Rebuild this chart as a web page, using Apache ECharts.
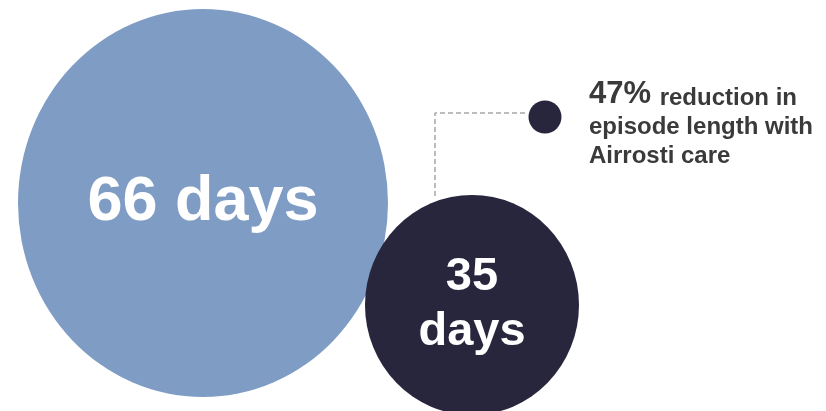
<!DOCTYPE html>
<html>
<head>
<meta charset="utf-8">
<style>
  html, body { margin: 0; padding: 0; background: #ffffff; }
  #chart { width: 826px; height: 411px; }
</style>
<script src="https://cdn.jsdelivr.net/npm/echarts@6/dist/echarts.min.js"></script>
</head>
<body>
<div id="chart"></div>
<script>
// Episode length, before and after Airrosti care
const groups = ['Before', 'With Airrosti care'];
const episodeDays = [66, 35];
const circleLabels = ['66 days', '35\ndays'];
const reductionPct = 47;
const calloutText = ['reduction in', 'episode length with', 'Airrosti care'];

// Layout: canvas-space placement of each bubble (axis units = pixels)
const layout = {
  centers: [[203, 203], [472, 305]],
  sizes: [[370, 388], [214, 220]],
  fonts: [63, 47],
  dot: { pos: [545, 117], size: 33 },
  leader: [[435, 196], [435, 113], [528, 113]]
};

const colors = ['#7f9cc4', '#27263d'];
const FONT = 'Liberation Sans, Arial, sans-serif';

const bubbleData = episodeDays.map((v, i) => ({
  name: groups[i],
  value: [layout.centers[i][0], layout.centers[i][1], v],
  symbolSize: layout.sizes[i],
  itemStyle: { color: colors[i], opacity: 1 },
  label: {
    show: true,
    position: 'inside',
    formatter: circleLabels[i],
    color: '#ffffff',
    fontFamily: FONT,
    fontWeight: 'bold',
    fontSize: layout.fonts[i],
    lineHeight: Math.round(layout.fonts[i] * 1.17)
  }
}));

const chart = echarts.init(document.getElementById('chart'), null, { renderer: 'canvas' });

chart.setOption({
  animation: false,
  grid: { left: 0, right: 0, top: 0, bottom: 0 },
  xAxis: { type: 'value', min: 0, max: 826, show: false },
  yAxis: { type: 'value', min: 0, max: 411, inverse: true, show: false },
  series: [
    {
      type: 'line',
      data: layout.leader,
      symbol: 'none',
      z: 1,
      lineStyle: { color: '#a8a8a8', width: 1.5, type: [5, 3] }
    },
    {
      type: 'scatter',
      name: groups[0],
      symbol: 'circle',
      z: 2,
      data: [bubbleData[0]]
    },
    {
      type: 'scatter',
      name: groups[1],
      symbol: 'circle',
      z: 3,
      data: [bubbleData[1]]
    },
    {
      type: 'scatter',
      symbol: 'circle',
      z: 4,
      symbolSize: layout.dot.size,
      itemStyle: { color: colors[1], opacity: 1 },
      data: [[layout.dot.pos[0], layout.dot.pos[1], reductionPct]]
    }
  ],
  graphic: [
    {
      type: 'text',
      left: 589,
      top: 79,
      style: {
        text: '{pct|' + reductionPct + '% }{body|' + calloutText[0] + '}\n{body|' +
              calloutText[1] + '}\n{body|' + calloutText[2] + '}',
        fill: '#3a3a3a',
        fontFamily: FONT,
        fontWeight: 'bold',
        rich: {
          pct: { fontSize: 31, fontWeight: 'bold', fill: '#3a3a3a', fontFamily: FONT, lineHeight: 29, verticalAlign: 'bottom' },
          body: { fontSize: 24, fontWeight: 'bold', fill: '#3a3a3a', fontFamily: FONT, lineHeight: 29, verticalAlign: 'bottom' }
        }
      }
    }
  ]
});
</script>
</body>
</html>
